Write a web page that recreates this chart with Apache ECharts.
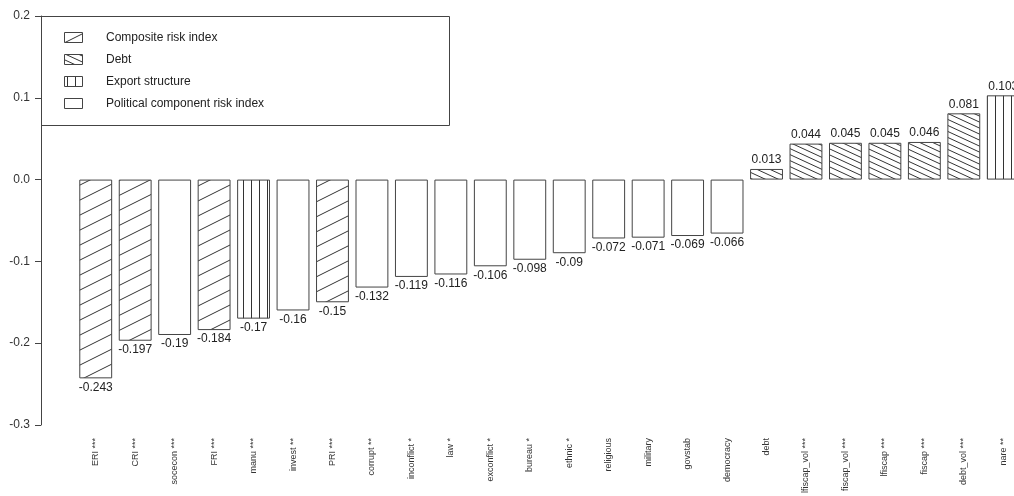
<!DOCTYPE html>
<html>
<head>
<meta charset="utf-8">
<script src="https://cdn.jsdelivr.net/npm/echarts@6/dist/echarts.min.js"></script>
<style>
  html, body { margin: 0; padding: 0; background: #fff; overflow: hidden; }
  #chart { width: 1030px; height: 496px; }
</style>
</head>
<body>
<div id="chart"></div>
<script>
var categories = ['ERI ***', 'CRI ***', 'socecon ***', 'FRI ***', 'manu ***', 'invest **', 'PRI ***',
    'corrupt **', 'inconflict *', 'law *', 'exconflict *', 'bureau *', 'ethnic *', 'religious',
    'military', 'govstab', 'democracy', 'debt', 'lfiscap_vol ***', 'fiscap_vol ***', 'lfiscap ***',
    'fiscap ***', 'debt_vol ***', 'nare **'];
var values = [-0.243, -0.197, -0.19, -0.184, -0.17, -0.16, -0.15, -0.132, -0.119, -0.116, -0.106,
    -0.098, -0.09, -0.072, -0.071, -0.069, -0.066, 0.013, 0.044, 0.045, 0.045, 0.046, 0.081, 0.103];
// 0 composite, 1 debt, 2 export structure, 3 political
var groups = [0, 0, 3, 0, 2, 3, 0, 3, 3, 3, 3, 3, 3, 3, 3, 3, 3, 1, 1, 1, 1, 1, 1, 2];
var groupNames = ['Composite risk index', 'Debt', 'Export structure', 'Political component risk index'];
var yTicks = [-0.3, 0.2, 0.1];  // min, max, interval

var font = '"Liberation Sans", Arial, sans-serif';

// hatch fills like R's density/angle shading
function makePattern(kind) {
    if (kind === 3) return '#fff';
    var c = document.createElement('canvas');
    var w, h;
    if (kind === 0) { w = 30; h = 15; }
    else if (kind === 1) { w = 13; h = 6; }
    else { w = 8; h = 8; }
    c.width = w; c.height = h;
    var ctx = c.getContext('2d');
    ctx.fillStyle = '#fff';
    ctx.fillRect(0, 0, w, h);
    ctx.strokeStyle = '#333';
    ctx.lineWidth = 1;
    ctx.beginPath();
    var k;
    if (kind === 0) {
        for (k = -2; k <= 2; k++) {
            ctx.moveTo(-w, 2 * h + k * h);
            ctx.lineTo(2 * w, -h + k * h);
        }
    } else if (kind === 1) {
        for (k = -2; k <= 2; k++) {
            ctx.moveTo(-w, -h + k * h);
            ctx.lineTo(2 * w, 2 * h + k * h);
        }
    } else {
        ctx.moveTo(3.5, 0);
        ctx.lineTo(3.5, h);
    }
    ctx.stroke();
    return { image: c, repeat: 'repeat' };
}
var fills = [0, 1, 2, 3].map(makePattern);

var barData = values.map(function (v, i) {
    return {
        value: v,
        itemStyle: { color: fills[groups[i]] },
        label: { position: v < 0 ? 'bottom' : 'top' }
    };
});

// legend drawn as a boxed key, top-left
var legendItems = [{
    type: 'rect',
    shape: { x: 41.5, y: 16.5, width: 408, height: 109 },
    style: { fill: 'none', stroke: '#444', lineWidth: 1 },
    z: 10
}];
groupNames.forEach(function (name, i) {
    var cy = 38 + i * 22;
    legendItems.push({
        type: 'rect',
        shape: { x: 64.5, y: cy - 5.5, width: 18, height: 10 },
        style: { fill: fills[i], stroke: '#444', lineWidth: 1 },
        z: 10
    });
    legendItems.push({
        type: 'text',
        x: 106, y: cy,
        style: { text: name, fontSize: 12, fontFamily: font, fill: '#222', verticalAlign: 'middle' },
        z: 10
    });
});

var myChart = echarts.init(document.getElementById('chart'));
myChart.setOption({
    animation: false,
    backgroundColor: '#fff',
    grid: { left: 76, top: 16, width: 947, bottom: 70 },
    xAxis: {
        type: 'category',
        data: categories,
        axisLine: { show: false },
        axisTick: { show: false },
        axisLabel: { rotate: 90, interval: 0, fontSize: 9, color: '#333', margin: 13, fontFamily: font }
    },
    yAxis: {
        type: 'value',
        min: yTicks[0],
        max: yTicks[1],
        interval: yTicks[2],
        offset: 35,
        axisLine: { show: true, lineStyle: { color: '#444' } },
        axisTick: { show: true, length: 6, lineStyle: { color: '#444' } },
        axisLabel: {
            fontSize: 12, color: '#333', margin: 11, fontFamily: font,
            formatter: function (v) { return v.toFixed(1); }
        },
        splitLine: { show: false }
    },
    series: [{
        type: 'bar',
        data: barData,
        barCategoryGap: '16.7%',
        itemStyle: { borderColor: '#444', borderWidth: 1 },
        label: {
            show: true, fontSize: 12, color: '#222', distance: 3, fontFamily: font,
            formatter: function (p) { return String(p.value); }
        }
    }],
    graphic: legendItems
});
</script>
</body>
</html>
